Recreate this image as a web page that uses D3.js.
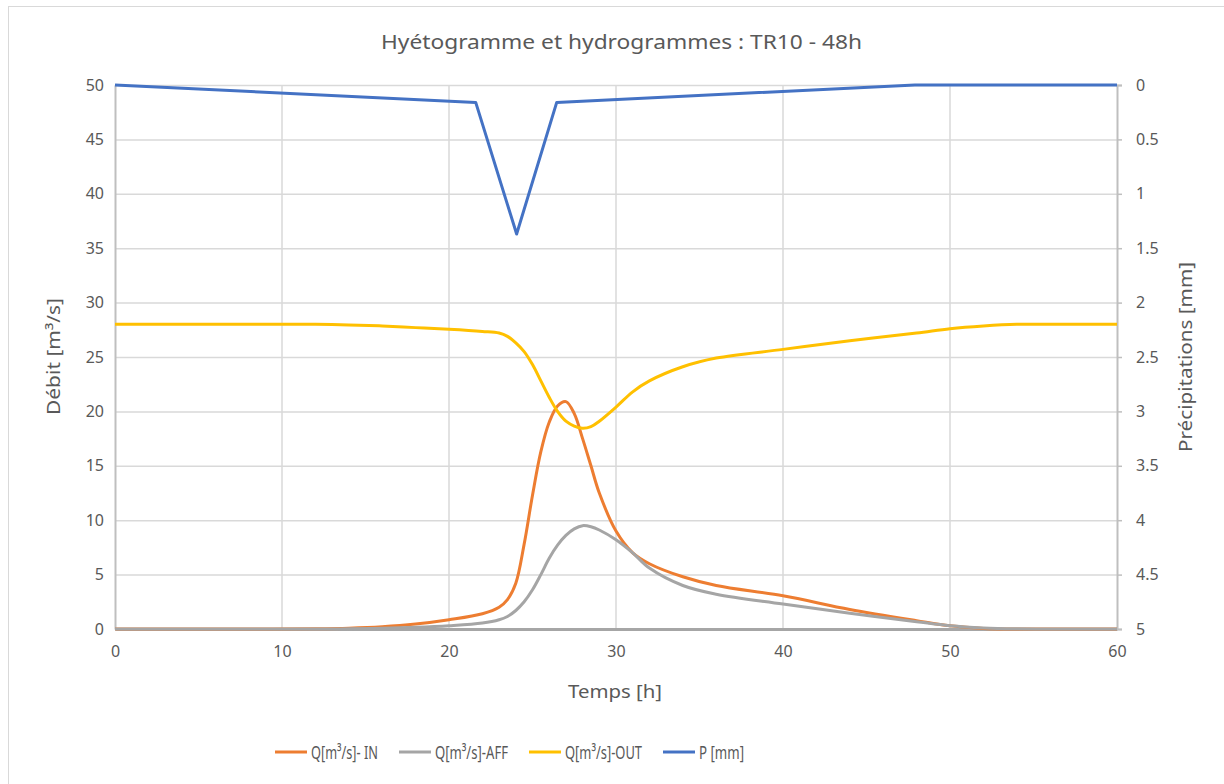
<!DOCTYPE html>
<html><head><meta charset="utf-8">
<script src="https://cdn.jsdelivr.net/npm/d3@7"></script>
<style>body{margin:0;background:#fff}svg{display:block}text{font-family:"Noto Sans",sans-serif;fill:#595959}</style>
</head><body><svg id="c" width="1224" height="784"></svg>
<script>
const title = "Hyétogramme et hydrogrammes : TR10 - 48h";
const timesQ = [0,4,8,12,14,16,18,20,22,23,23.5,24,24.5,25,25.5,26,26.5,27,27.5,28,28.5,29,30,31,32,34,36,40,44,48,50,52,54,56,60];
const qIn  = [0,0,0,0.02,0.07,0.2,0.45,0.85,1.4,2.0,2.7,4.2,7.8,12.3,16.3,19.0,20.5,20.9,19.8,17.5,15.0,12.5,9.0,7.0,6.0,4.8,4.0,3.05,1.8,0.77,0.3,0.05,0,0,0];
const qAff = [0,0,0,0,0.02,0.06,0.15,0.3,0.55,0.85,1.15,1.7,2.5,3.6,5.0,6.5,7.7,8.6,9.2,9.5,9.4,9.1,8.2,7.0,5.6,4.0,3.2,2.3,1.45,0.67,0.3,0.1,0.02,0,0];
const qOut = [28,28,28,28,27.95,27.85,27.7,27.55,27.35,27.2,26.9,26.3,25.5,24.3,22.8,21.3,20.0,19.1,18.65,18.45,18.6,19.1,20.4,21.8,22.8,24.1,24.9,25.7,26.5,27.2,27.6,27.85,28.0,28.0,28.0];
const timesP = [0,21.6,24.05,26.45,47.9,60];
const pMm = [0,0.16,1.37,0.16,0,0];
const xTicks = [0,10,20,30,40,50,60];
const yLeftTicks = [0,5,10,15,20,25,30,35,40,45,50];
const yRightTicks = [0,0.5,1,1.5,2,2.5,3,3.5,4,4.5,5];
const seriesNames = ["Q[m³/s]- IN","Q[m³/s]-AFF","Q[m³/s]-OUT","P [mm]"];
const colors = ["#ED7D31","#A5A5A5","#FFC000","#4472C4"];

const svg = d3.select("#c");
svg.append("rect").attr("x",8.5).attr("y",6.5).attr("width",1240).attr("height",800).attr("fill","none").attr("stroke","#D9D9D9");

const L=115,R=1117,T=85,B=629;
const x = d3.scaleLinear().domain([0,60]).range([L,R]);
const yL = d3.scaleLinear().domain([0,50]).range([B,T]);
const yR = d3.scaleLinear().domain([0,5]).range([T,B]);

// grid
svg.append("g").selectAll("line").data(yLeftTicks.filter(d=>d>0)).join("line")
  .attr("x1",L).attr("x2",R).attr("y1",d=>yL(d)+0.5).attr("y2",d=>yL(d)+0.5).attr("stroke","#D9D9D9").attr("stroke-width",1.5);
svg.append("g").selectAll("line").data(xTicks.filter(d=>d>0&&d<60)).join("line")
  .attr("y1",T).attr("y2",B).attr("x1",d=>x(d)).attr("x2",d=>x(d)).attr("stroke","#D9D9D9").attr("stroke-width",1.5);

// axes
const axL = svg.append("g").attr("transform",`translate(${L},0)`).call(d3.axisLeft(yL).tickValues(yLeftTicks).tickSize(0).tickPadding(11));
const axB = svg.append("g").attr("transform",`translate(0,${B})`).call(d3.axisBottom(x).tickValues(xTicks).tickSize(0).tickPadding(17));
const axR = svg.append("g").attr("transform",`translate(${R},0)`).call(d3.axisRight(yR).tickValues(yRightTicks).tickSize(5).tickPadding(14).tickFormat(d3.format("")));
[axL,axB,axR].forEach(a=>{
  a.selectAll("text").style("font-size","16px").attr("fill","#595959");
  a.select(".domain").attr("stroke","#BFBFBF").attr("stroke-width",2);
  a.selectAll(".tick line").attr("stroke","#BFBFBF").attr("stroke-width",1.5);
});
axB.select(".domain").attr("stroke","#A6A6A6").attr("stroke-width",3);

// lines
const mk = (ts, ys, sc) => d3.line().x((d,i)=>x(ts[i])).y(d=>sc(d)).curve(d3.curveCatmullRom.alpha(0.5))(ys);
const paths = [
  mk(timesQ,qIn,yL), mk(timesQ,qAff,yL), mk(timesQ,qOut,yL),
  d3.line().x((d,i)=>x(timesP[i])).y(d=>yR(d))(pMm)
];
paths.forEach((p,i)=>svg.append("path").attr("d",p).attr("fill","none").attr("stroke",colors[i]).attr("stroke-width",3).attr("stroke-linejoin","round"));

// title & axis titles
svg.append("text").attr("x",381).attr("y",49).attr("textLength",481).attr("lengthAdjust","spacingAndGlyphs").style("font-size","20px").text(title);
svg.append("text").attr("x",568).attr("y",698).attr("textLength",94).attr("lengthAdjust","spacingAndGlyphs").style("font-size","18px").text("Temps [h]");
svg.append("text").attr("transform","translate(60,415) rotate(-90)").attr("textLength",117).attr("lengthAdjust","spacingAndGlyphs").style("font-size","18px").text("Débit [m³/s]");
svg.append("text").attr("transform","translate(1192,452) rotate(-90)").attr("textLength",190).attr("lengthAdjust","spacingAndGlyphs").style("font-size","18px").text("Précipitations [mm]");

// legend
const legX = [275,399,529,663];
const legW = [67,73,77,45];
const lg = svg.append("g").selectAll("g").data(seriesNames).join("g").attr("transform",(d,i)=>`translate(${legX[i]},752)`);
lg.append("line").attr("x1",0).attr("x2",32).attr("stroke",(d,i)=>colors[i]).attr("stroke-width",3);
lg.append("text").attr("x",36).attr("y",6.5).attr("textLength",(d,i)=>legW[i]).attr("lengthAdjust","spacingAndGlyphs").style("font-size","18.5px").text(d=>d);
</script></body></html>
